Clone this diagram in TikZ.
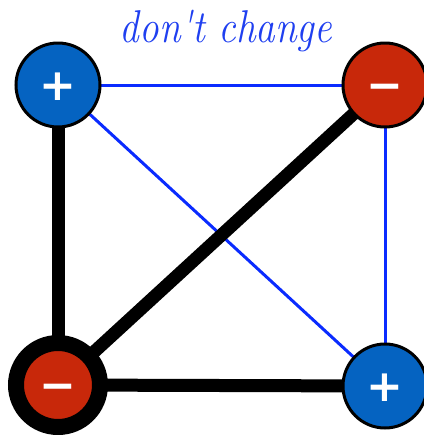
\documentclass[tikz,border=0pt]{standalone}
\usepackage{fontspec,graphicx}
\newfontfamily\signfont{DejaVu Sans}
\usetikzlibrary{positioning,backgrounds}
\definecolor{plusBlue}{HTML}{0563C1}
\definecolor{minusRed}{HTML}{C8280A}
\definecolor{edgeBlue}{HTML}{0A2BFF}
\definecolor{labelBlue}{HTML}{1F3FF0}
\tikzset{
    charge/.style={circle,draw=black,line width=1.5pt,minimum size=42pt,
        inner sep=0pt,text=white,text height=15pt,text depth=0pt,
        font=\signfont\bfseries\fontsize{22}{22}\selectfont},
    poscharge/.style={charge,fill=plusBlue},
    negcharge/.style={charge,fill=minusRed},
    keepedge/.style={draw=edgeBlue,line width=1.5pt},
    cutedge/.style={draw=black,line width=6.5pt}
}
\begin{document}
\begin{tikzpicture}[x=0.5pt,y=-0.5pt]
    \useasboundingbox (0,0) rectangle (424,435);

    \node[text=labelBlue,anchor=base,inner sep=0pt,
        font=\rmfamily\itshape\fontsize{23}{23}\selectfont] (label) at (226,42)
        {\scalebox{0.85}[1]{don\textquotesingle t change}};

    \node[poscharge] (topleft) at (58,85) {+};
    \node[negcharge] (topright) at (385,85) {−};
    \node[negcharge,line width=8pt] (bottomleft) at (58,385) {−};
    \node[poscharge] (bottomright) at (385,386) {+};

    \begin{pgfonlayer}{background}
        \draw[keepedge] (topleft.center) -- (topright.center);
        \draw[keepedge] (topright.center) -- (bottomright.center);
        \draw[keepedge] (topleft.center) -- (bottomright.center);
        \draw[cutedge] (topleft.center) -- (bottomleft.center);
        \draw[cutedge] (bottomleft.center) -- (topright.center);
        \draw[cutedge] (bottomleft.center) -- (bottomright.center);
    \end{pgfonlayer}
\end{tikzpicture}
\end{document}
